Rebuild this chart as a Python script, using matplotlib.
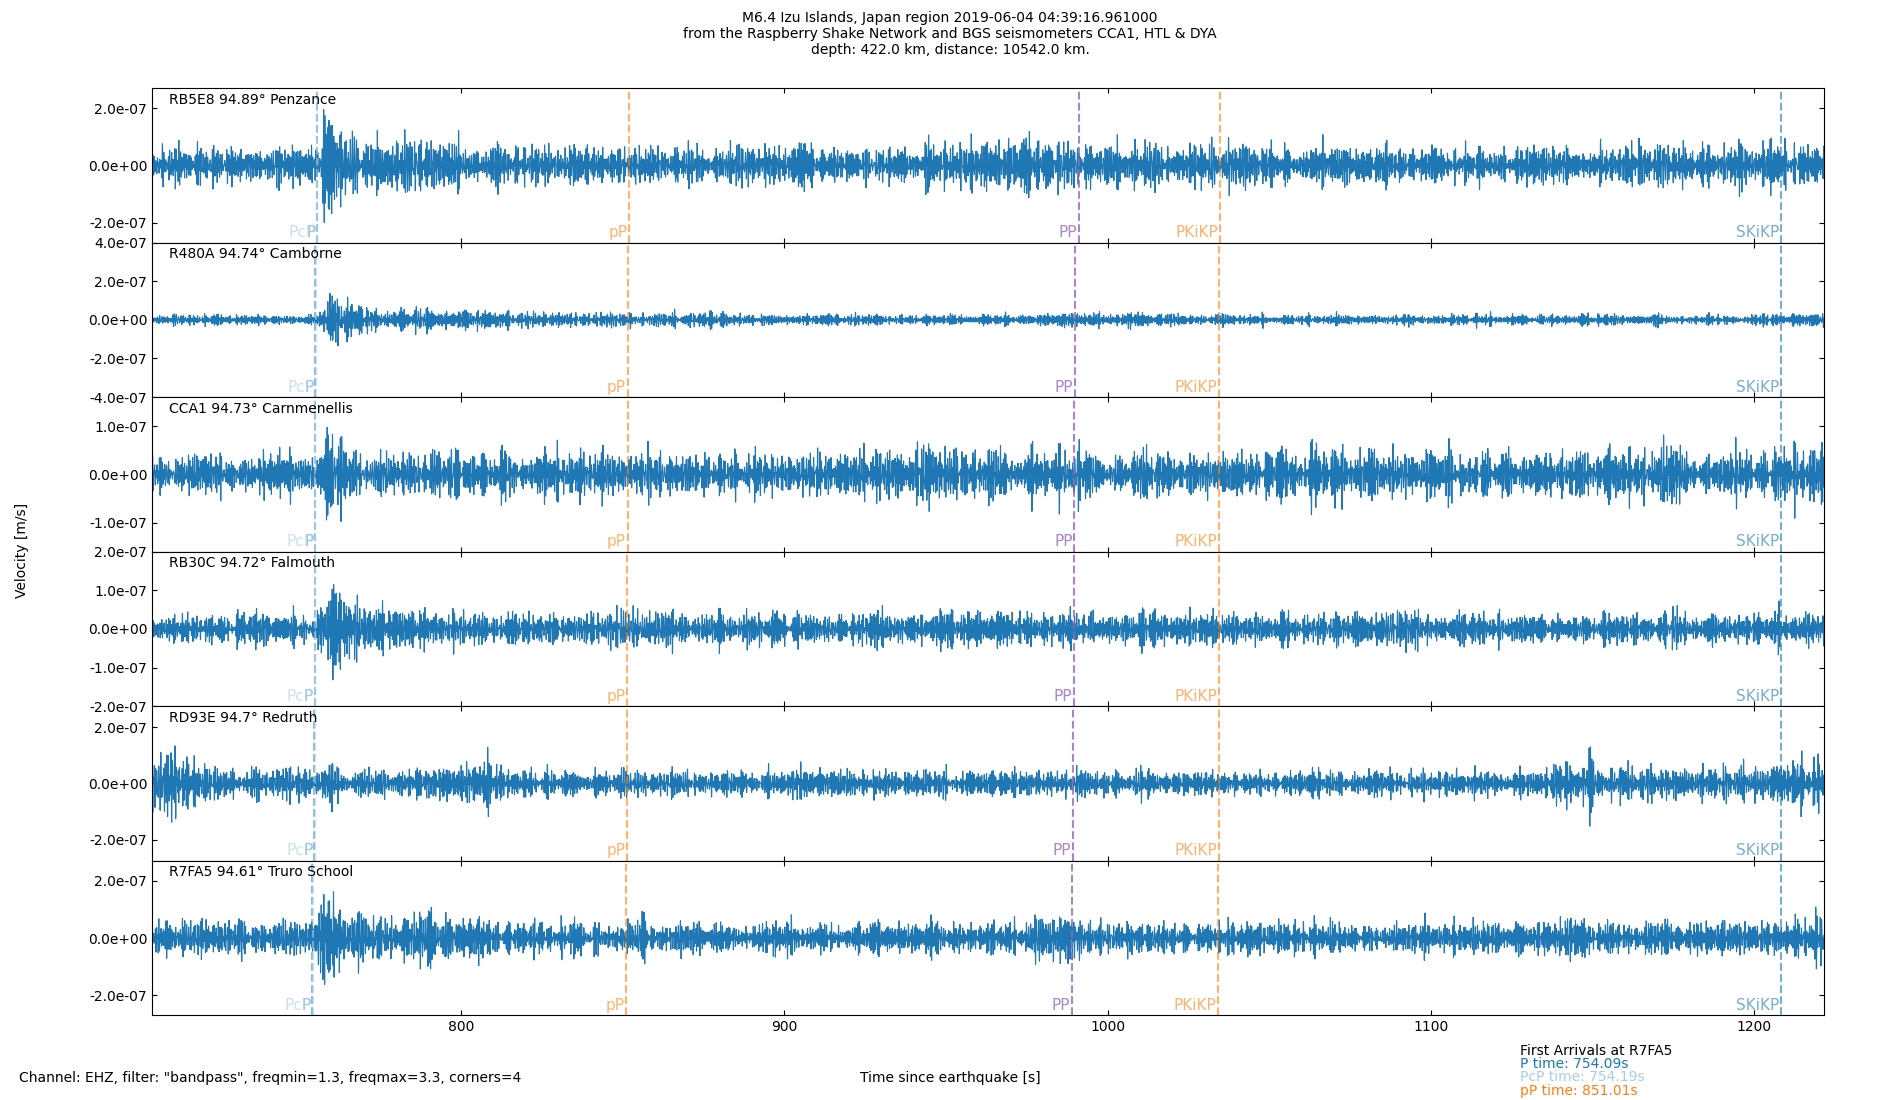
import numpy as np
import matplotlib.pyplot as plt

# Stations (top to bottom)
stations = ['RB5E8 94.89° Penzance', 'R480A 94.74° Camborne', 'CCA1 94.73° Carnmenellis',
            'RB30C 94.72° Falmouth', 'RD93E 94.7° Redruth', 'R7FA5 94.61° Truro School']
ylims = [2.7e-7, 4.0e-7, 1.6e-7, 2.0e-7, 2.75e-7, 2.7e-7]
ytick_steps = [2e-7, 2e-7, 1e-7, 1e-7, 2e-7, 2e-7]

# phase arrival times per station [P, PcP, pP, PP, PKiKP, SKiKP]
phase_names = ['P', 'PcP', 'pP', 'PP', 'PKiKP', 'SKiKP']
phase_times = [
    [755.5, 755.6, 852.0, 991.0, 1034.6, 1208.3],
    [755.0, 755.1, 851.6, 989.9, 1034.4, 1208.2],
    [754.9, 755.0, 851.6, 989.7, 1034.4, 1208.2],
    [754.8, 754.9, 851.5, 989.5, 1034.3, 1208.2],
    [754.7, 754.8, 851.4, 989.3, 1034.3, 1208.2],
    [754.1, 754.2, 851.0, 989.0, 1034.2, 1208.1],
]
phase_colors = ['#1f77b4', '#a6cee3', '#ff7f0e', '#9467bd', '#ff7f0e', '#1f77b4']
phase_alpha = [0.6, 0.6, 0.6, 0.8, 0.6, 0.6]

# P-wave burst: peak gain over background
p_burst = [3.0, 4.5, 2.4, 2.8, 1.6, 2.6]

# background envelope: amplitude (relative) every 10 s from 705 s
env_t = np.arange(705, 1226, 10)
envelopes = [
    [.45, .5, .5, .5, .5, .5, .6, .7, .7, .6, .6, .6, .5, .5, .5, .5, .5, .5, .5, .55, .55, .5, .5, .5, .5, .55,
     .6, .6, .7, .6, .55, .55, .55, .55, .55, .5, .5, .5, .5, .5, .5, .5, .5, .5, .5, .5, .5, .55, .55, .55, .6, .6, .6],
    [.2, .2, .2, .2, .2, .2, .35, .4, .4, .4, .35, .35, .3, .3, .3, .35, .3, .3, .25, .2, .2, .2, .2, .2, .25, .2,
     .2, .2, .3, .25, .25, .3, .2, .2, .2, .2, .2, .2, .2, .2, .2, .2, .2, .2, .2, .2, .2, .2, .2, .2, .25, .3, .3],
    [.35, .4, .45, .45, .45, .45, .55, .55, .55, .55, .5, .5, .5, .5, .5, .55, .55, .5, .5, .55, .5, .5, .5, .55,
     .6, .6, .55, .55, .55, .6, .55, .5, .5, .55, .55, .6, .6, .55, .55, .55, .55, .5, .5, .5, .5, .55, .55, .55, .5, .55, .55, .6, .6],
    [.35, .4, .4, .4, .4, .4, .6, .6, .5, .45, .4, .4, .4, .45, .5, .55, .5, .45, .45, .45, .45, .45, .45, .45, .4,
     .45, .45, .4, .4, .45, .45, .45, .45, .45, .4, .4, .4, .45, .45, .5, .45, .4, .4, .4, .4, .4, .4, .4, .4, .4, .4, .4, .4],
    [.9, .7, .45, .4, .4, .4, .45, .45, .4, .4, .85, .45, .35, .35, .35, .35, .35, .35, .35, .35, .4, .45, .35, .35,
     .35, .35, .35, .35, .3, .35, .35, .3, .35, .35, .3, .35, .35, .35, .35, .35, .35, .35, .35, .35, .85, .6, .5, .45,
     .45, .5, .5, .55, .6],
    [.45, .45, .45, .45, .45, .45, .6, .75, .75, .6, .5, .45, .45, .45, .4, .4, .4, .4, .4, .4, .4, .4, .45, .4,
     .4, .4, .45, .5, .55, .45, .45, .4, .4, .4, .45, .4, .4, .4, .4, .4, .4, .4, .4, .4, .4, .45, .45, .45, .45, .45,
     .45, .5, .55],
]
env_scale = [1.5e-7, 1.5e-7, 1.05e-7, 1.1e-7, 1.5e-7, 1.5e-7]

t = np.arange(704.5, 1221.5, 0.04)
primes = [p for p in range(2, 1000) if all(p % q for q in range(2, int(p ** 0.5) + 1))][:90]
freqs = 1.3 + 2.0 * (np.sqrt(primes) % 1.0)

fig, axes = plt.subplots(6, 1, figsize=(19, 11), sharex=True)
fig.subplots_adjust(left=0.08, right=0.96, top=0.92, bottom=0.077, hspace=0)

for i, ax in enumerate(axes):
    p = phase_times[i][0]
    gain = np.interp(t, [p + 1, p + 3, p + 6, p + 9, p + 16],
                     [1, p_burst[i], p_burst[i] * 0.8, p_burst[i] * 0.5, 1])
    env = np.interp(t, env_t, envelopes[i]) * env_scale[i] * gain
    sig = np.zeros_like(t)
    for k, f in enumerate(freqs):
        ph = np.pi * k * k / len(freqs) + 1.3 * i * k
        sig += np.sin(2 * np.pi * f * t + ph)
    sig = sig / np.percentile(np.abs(sig), 99.5) * 1.1
    ax.plot(t, env * sig, color='#1f77b4', lw=0.8)
    ax.set_xlim(704.5, 1221.5)
    ax.set_ylim(-ylims[i], ylims[i])
    step = ytick_steps[i]
    n = int(ylims[i] / step + 1e-6)
    ax.set_yticks(np.arange(-n, n + 1) * step)
    ax.yaxis.set_major_formatter(plt.FormatStrFormatter('%.1e'))
    ax.tick_params(direction='in', top=True, right=True, labelsize=10)
    ax.text(0.01, 0.97, stations[i], transform=ax.transAxes, va='top', fontsize=10)
    for j, name in enumerate(phase_names):
        x = phase_times[i][j]
        ax.axvline(x, color=phase_colors[j], ls='--', lw=1.5, alpha=phase_alpha[j] if j else 0.5)
        col = '#1f77b4' if name == 'P' else phase_colors[j]
        al = 0.45 if name == 'P' else phase_alpha[j]
        ax.text(x - 0.5, -ylims[i] * 0.97, name, color=col, alpha=al,
                ha='right', va='bottom', fontsize=11)

axes[-1].set_xticks([800, 900, 1000, 1100, 1200])

fig.suptitle('M6.4 Izu Islands, Japan region 2019-06-04 04:39:16.961000\n'
             'from the Raspberry Shake Network and BGS seismometers CCA1, HTL & DYA\n'
             'depth: 422.0 km, distance: 10542.0 km.', fontsize=10, y=0.99)
fig.text(0.008, 0.5, 'Velocity [m/s]', rotation=90, va='center', fontsize=10)
fig.text(0.01, 0.016, 'Channel: EHZ, filter: "bandpass", freqmin=1.3, freqmax=3.3, corners=4', fontsize=10)
fig.text(0.50, 0.016, 'Time since earthquake [s]', ha='center', fontsize=10)
fig.text(0.80, 0.041, 'First Arrivals at R7FA5', fontsize=10)
fig.text(0.80, 0.029, 'P time: 754.09s', fontsize=10, color='#1f77b4')
fig.text(0.80, 0.017, 'PcP time: 754.19s', fontsize=10, color='#a6cee3')
fig.text(0.80, 0.005, 'pP time: 851.01s', fontsize=10, color='#ff7f0e')

fig.savefig('out.png', dpi=100)
